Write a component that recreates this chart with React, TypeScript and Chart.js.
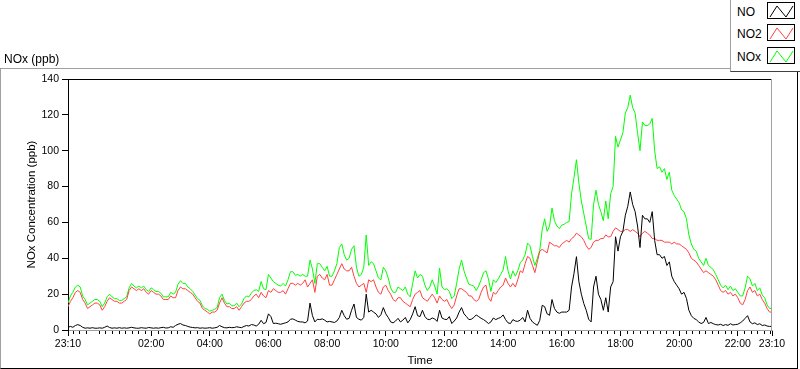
import React, { useEffect, useRef } from "react";
import { Chart, registerables } from "chart.js";

Chart.register(...registerables);

// ---- data (5-minute readings from 23:10 to 23:10 next day) ----
const START_TIME = "23:10";
const STEP_MINUTES = 5;

const xTickLabels = ["23:10", "02:00", "04:00", "06:00", "08:00", "10:00", "12:00", "14:00", "16:00", "18:00", "20:00", "22:00", "23:10"];
const yTickValues = [0, 20, 40, 60, 80, 100, 120, 140];

const seriesNames = ["NO", "NO2", "NOx"];
const seriesColors = ["#000000", "#ff4040", "#00ff00"];

const NO = [
  1.5, 2, 1.5, 2.5, 3, 2.5, 1.5, 1, 1.2, 1, 1.3, 1,
  1, 1.2, 1, 1.5, 2.2, 1.4, 1, 1.2, 1, 1.3, 1, 1.2,
  1, 1.2, 1.5, 1.2, 1, 1, 1.3, 1.1, 1, 1.4, 1.2, 1,
  1.2, 1, 1.3, 1.5, 1.1, 1.2, 1.8, 1.5, 2.5, 3.2, 3.6, 2.8,
  2.5, 2, 1.6, 1.4, 1.2, 1.3, 1, 1.2, 1, 1.1, 1.3, 1,
  1.2, 1.5, 2.5, 1.8, 1.3, 1.2, 1.5, 1.3, 1.4, 1.8, 1.5, 1.3,
  2, 2.5, 2.2, 3, 2.8, 2.2, 3.2, 5.4, 3.5, 4.2, 9, 7.5,
  3.6, 3.8, 3.5, 3.2, 3.6, 4, 4.5, 6, 6.2, 5.5, 4.8, 4.5,
  4.5, 4, 5, 15, 8, 4.5, 6, 5.8, 6.2, 5.5, 4.5, 4.8,
  4.5, 4.2, 5, 7, 11, 8, 6, 6.5, 11, 14.5, 7, 6,
  5.5, 7, 20, 10, 11, 10, 9, 7, 8.5, 12.5, 9, 7,
  4.5, 4, 5, 6.5, 4.5, 5.5, 7, 4, 5.8, 9, 13, 8,
  7.5, 11, 7.5, 6, 5.8, 6.7, 6.2, 4.8, 11, 6.7, 6, 5.8,
  7.5, 3.6, 5, 6.7, 10, 12.5, 9, 7.5, 5.8, 6, 7, 8.4,
  7.5, 6.5, 5.8, 4.8, 3.6, 4.5, 6.7, 5.8, 6.5, 7, 8.4, 5.8,
  4, 3.6, 5.8, 5, 4.8, 5.5, 7, 4.5, 11, 6.5, 4.5, 3.5,
  2.6, 5.4, 13.8, 13, 9, 8.2, 17, 12, 10, 9.3, 10, 10,
  10, 11, 24, 31.6, 40.9, 27, 20, 14.8, 11, 6, 4.5, 24,
  30, 20, 17, 11, 18, 10, 24, 27, 52, 44, 52, 55,
  64, 69, 77, 70, 66, 58, 46, 64, 62, 62, 60, 66,
  50, 42, 42, 40, 41, 36, 38, 30, 27, 25, 23, 20,
  21, 17.6, 11, 8, 6.5, 5.8, 4.5, 3.6, 4.2, 7, 3.6, 4.2,
  3.5, 3, 2.8, 3.2, 2.5, 3, 2.6, 3.5, 2.8, 3, 3.2, 4,
  5, 6.5, 8, 4.5, 3.5, 4, 3, 3.5, 2.5, 2.8, 2.2, 2, 2,
];

const NO2 = [
  13, 16, 18, 21, 22, 21, 17, 15, 12, 13, 14, 15,
  15, 14, 11, 13, 16, 18, 17, 16, 16, 15, 15, 16,
  17, 22, 24, 23, 22, 23, 22, 23, 21, 20, 22, 21,
  20, 20, 19, 17, 17, 17, 19, 18, 18, 22, 24, 23,
  23, 22, 21, 20, 18, 16, 15, 12, 11, 10, 9, 10,
  10, 11, 15, 18, 15, 13, 13, 12, 12, 13, 11, 13,
  15, 16, 16, 17, 19, 20, 18, 21, 19, 18, 22, 21,
  23, 22, 21, 21, 22, 20, 23, 26, 26, 25, 26, 25,
  26, 28, 24, 26, 28, 21, 30, 31, 29, 28, 31, 25,
  25, 28, 31, 34, 37, 34, 33, 33, 35, 30, 26, 24,
  25, 26, 21, 28, 27, 28, 24, 21, 20, 24, 25, 22,
  20, 17, 16, 18, 18, 16, 15, 14, 13, 17, 20, 21,
  22, 18, 17, 16, 18, 20, 18, 15, 19, 17, 16, 17,
  14, 12, 14, 19, 23, 23, 22, 21, 19, 19, 17, 16,
  17, 21, 24, 25, 18, 16, 21, 20, 22, 24, 25, 29,
  26, 24, 26, 24, 28, 33, 32, 37, 41, 40, 36, 32,
  38, 44, 45, 44, 43, 49, 48, 47, 47, 46, 48, 49,
  50, 49, 51, 52, 54, 53, 52, 50, 47, 45, 46, 49,
  50, 50, 51, 51, 53, 52, 52, 55, 57, 56, 55, 55,
  56, 56, 55, 56, 55, 54, 52, 54, 55, 54, 53, 51,
  51, 50, 50, 50, 49, 49, 49, 48, 49, 48, 48, 47,
  46, 45, 43, 40, 39, 38, 36, 34, 32, 33, 32, 31,
  30, 28, 25, 22, 21, 22, 20, 21, 19, 20, 18, 15,
  14, 17, 22, 24, 21, 22, 19, 20, 17, 15, 12, 10, 10,
];

const NOX = [
  15, 19, 21, 24, 25, 24, 19, 17, 14, 15, 16, 17,
  17, 16, 13, 15, 18.5, 20, 18.5, 17.5, 17.5, 16.5, 16.5, 17.5,
  18.5, 23.5, 26, 24.5, 23.5, 24.5, 23.5, 24.5, 22.5, 21.5, 23.5, 22.5,
  21.5, 21.5, 20.5, 18.5, 18.5, 18.5, 21, 20, 21, 25.5, 27.5, 26,
  26, 24, 23, 21.5, 19.5, 17.5, 16.5, 13.5, 12, 11.5, 10.5, 11,
  11.5, 12.5, 18, 20, 16.5, 14.5, 15, 13.5, 13.5, 15, 13, 14.5,
  17.5, 19, 18.5, 20.5, 22, 22.5, 21.5, 27, 23, 22.5, 31, 29,
  27, 26, 25, 24.5, 26, 24.5, 28, 32.5, 32.5, 30.5, 31, 30,
  31, 30, 30, 39, 34, 26, 37, 37, 35, 33, 35.5, 30,
  30, 33, 37, 46, 48, 42, 39, 40, 45, 47, 35, 30,
  31, 35, 53, 36, 38, 37, 33, 29, 28, 35, 33, 29,
  23.5, 21, 21, 24, 23, 22, 24, 20, 18.5, 26, 33, 29,
  31, 30, 25, 22, 24, 28, 24.5, 20, 34.5, 24, 22.5, 23,
  21.5, 17.5, 19, 26, 34, 39, 33, 29, 25.5, 25, 24.5, 22,
  24.5, 28, 32, 33, 28.5, 21.5, 28, 26.5, 28.5, 31, 33.5, 41,
  33, 28.5, 33, 30, 33, 37.5, 39, 42, 48.5, 47, 41, 36,
  40, 44.5, 56, 62, 55, 58, 68, 61, 58, 56.5, 58.5, 59,
  60, 60.5, 76, 85, 95, 82, 72, 65, 58, 51, 50.5, 70,
  78, 70, 66, 61, 72, 62, 76, 80, 108, 102, 106, 110,
  121, 124, 131, 124, 121, 110, 100, 116, 114, 114, 115, 118,
  100, 90, 91, 88, 90, 84, 88, 78, 75, 73, 71, 67,
  66, 62, 53, 48, 45, 44, 40, 38, 36, 40, 36, 35,
  33.5, 31, 28, 25, 23.5, 25, 22.5, 24.5, 22, 23, 21, 19,
  19, 23.5, 30, 28.5, 24.5, 26, 22, 23.5, 19.5, 18, 14, 12, 12,
];

const seriesData = [NO, NO2, NOX];

// ---- helpers ----
const toMin = (s: string) => {
  const [h, m] = s.split(":").map(Number);
  return h * 60 + m;
};
const startMin = toMin(START_TIME);
const xTickMinutes = xTickLabels.map((l, i) =>
  i === xTickLabels.length - 1 ? 1440 : (toMin(l) - startMin + 1440) % 1440
);

const FONT = '"Liberation Sans", Arial, sans-serif';

const framePlugin = {
  id: "labviewFrame",
  afterDraw(chart: any) {
    const { ctx, chartArea } = chart;
    const { left, top, right, bottom } = chartArea;
    const xs = chart.scales.x;
    ctx.save();
    ctx.lineWidth = 1;
    // top border (dark)
    ctx.strokeStyle = "#000000";
    ctx.beginPath();
    ctx.moveTo(left, Math.round(top) + 0.5);
    ctx.lineTo(right, Math.round(top) + 0.5);
    ctx.stroke();
    // right border (light)
    ctx.strokeStyle = "#a0a0a0";
    ctx.beginPath();
    ctx.moveTo(Math.round(right) - 0.5, top);
    ctx.lineTo(Math.round(right) - 0.5, bottom + 1);
    ctx.stroke();
    // minor x ticks
    ctx.strokeStyle = "#000000";
    ctx.beginPath();
    const step = 120 / 9;
    for (let k = -20; k <= 120; k++) {
      if (k % 9 === 0) continue;
      const t = xTickMinutes[1] + k * step;
      if (t <= 1 || t >= 1439) continue;
      const px = Math.round(xs.getPixelForValue(t)) + 0.5;
      ctx.moveTo(px, bottom + 1);
      ctx.lineTo(px, bottom + 4);
    }
    ctx.stroke();
    ctx.restore();
  },
};

export default function App() {
  const ref = useRef<HTMLCanvasElement | null>(null);

  useEffect(() => {
    const canvas = ref.current;
    if (!canvas) return;
    const labels = NO.map((_, i) => i * STEP_MINUTES);
    const chart = new Chart(canvas, {
      type: "line",
      data: {
        labels,
        datasets: seriesNames.map((name, i) => ({
          label: name,
          data: seriesData[i],
          borderColor: seriesColors[i],
          backgroundColor: seriesColors[i],
          borderWidth: 1,
          pointRadius: 0,
          tension: 0,
          fill: false,
        })),
      },
      options: {
        animation: false,
        responsive: false,
        devicePixelRatio: 1,
        layout: { padding: { left: 0, top: 79, right: 28, bottom: 0 } },
        plugins: { legend: { display: false }, tooltip: { enabled: false } },
        scales: {
          x: {
            type: "linear",
            min: 0,
            max: 1440,
            afterFit: (s: any) => {
              s.height = 39;
            },
            afterBuildTicks: (s: any) => {
              s.ticks = xTickMinutes.map((v) => ({ value: v }));
            },
            ticks: {
              autoSkip: false,
              maxRotation: 0,
              padding: 2,
              color: "#000",
              font: { family: FONT, size: 10.5 },
              callback: (_v: any, i: number) => xTickLabels[i],
            },
            grid: { drawOnChartArea: false, drawTicks: true, tickLength: 6, tickColor: "#000" },
            border: { display: true, color: "#a0a0a0", width: 1 },
            title: {
              display: true,
              text: "Time",
              color: "#000",
              font: { family: FONT, size: 11.5 },
              padding: { top: 0, bottom: 1 },
            },
          },
          y: {
            min: 0,
            max: 140,
            afterFit: (s: any) => {
              s.width = 68;
            },
            afterBuildTicks: (s: any) => {
              s.ticks = yTickValues.map((v) => ({ value: v }));
            },
            ticks: {
              padding: 3,
              color: "#000",
              font: { family: FONT, size: 10.5 },
            },
            grid: { drawOnChartArea: false, drawTicks: true, tickLength: 6, tickColor: "#000" },
            border: { display: true, color: "#000", width: 1 },
            title: {
              display: true,
              text: "NOx Concentration (ppb)",
              color: "#000",
              font: { family: FONT, size: 11.5 },
              padding: { top: 25, bottom: 0 },
            },
          },
        },
      },
      plugins: [framePlugin],
    } as any);
    return () => chart.destroy();
  }, []);

  const zig = "2,14 9,3 18,14 25,3";

  return (
    <div
      style={{
        position: "absolute",
        left: 0,
        top: 0,
        width: 800,
        height: 369,
        background: "#fff",
        overflow: "hidden",
        fontFamily: FONT,
      }}
    >
      <canvas ref={ref} width={800} height={369} style={{ position: "absolute", left: 0, top: 0, display: "block" }} />
      <div
        style={{
          position: "absolute",
          left: 0,
          top: 68,
          width: 798,
          height: 301,
          boxSizing: "border-box",
          borderTop: "1px solid #a0a0a0",
          borderLeft: "1px solid #a0a0a0",
          borderRight: "1px solid #000",
          borderBottom: "1px solid #000",
          pointerEvents: "none",
        }}
      />
      <div style={{ position: "absolute", left: 4, top: 51, fontSize: 12, lineHeight: "16px", color: "#000" }}>
        NOx (ppb)
      </div>
      <div
        style={{
          position: "absolute",
          left: 730,
          top: 0,
          width: 70,
          height: 72,
          boxSizing: "border-box",
          background: "#fff",
          borderLeft: "1px solid #a0a0a0",
          borderBottom: "1px solid #404040",
        }}
      >
        {seriesNames.map((name, i) => {
          const top = [2, 24, 47][i];
          return (
            <React.Fragment key={name}>
              <div
                style={{
                  position: "absolute",
                  left: 6,
                  top: top + 2,
                  fontSize: 12,
                  lineHeight: "17px",
                  color: "#000",
                }}
              >
                {name}
              </div>
              <svg
                width={28}
                height={17}
                style={{ position: "absolute", left: 36, top, border: "1px solid #000", boxSizing: "border-box", background: "#fff" }}
              >
                <polyline points={zig} fill="none" stroke={seriesColors[i]} strokeWidth={1} />
              </svg>
            </React.Fragment>
          );
        })}
      </div>
    </div>
  );
}
